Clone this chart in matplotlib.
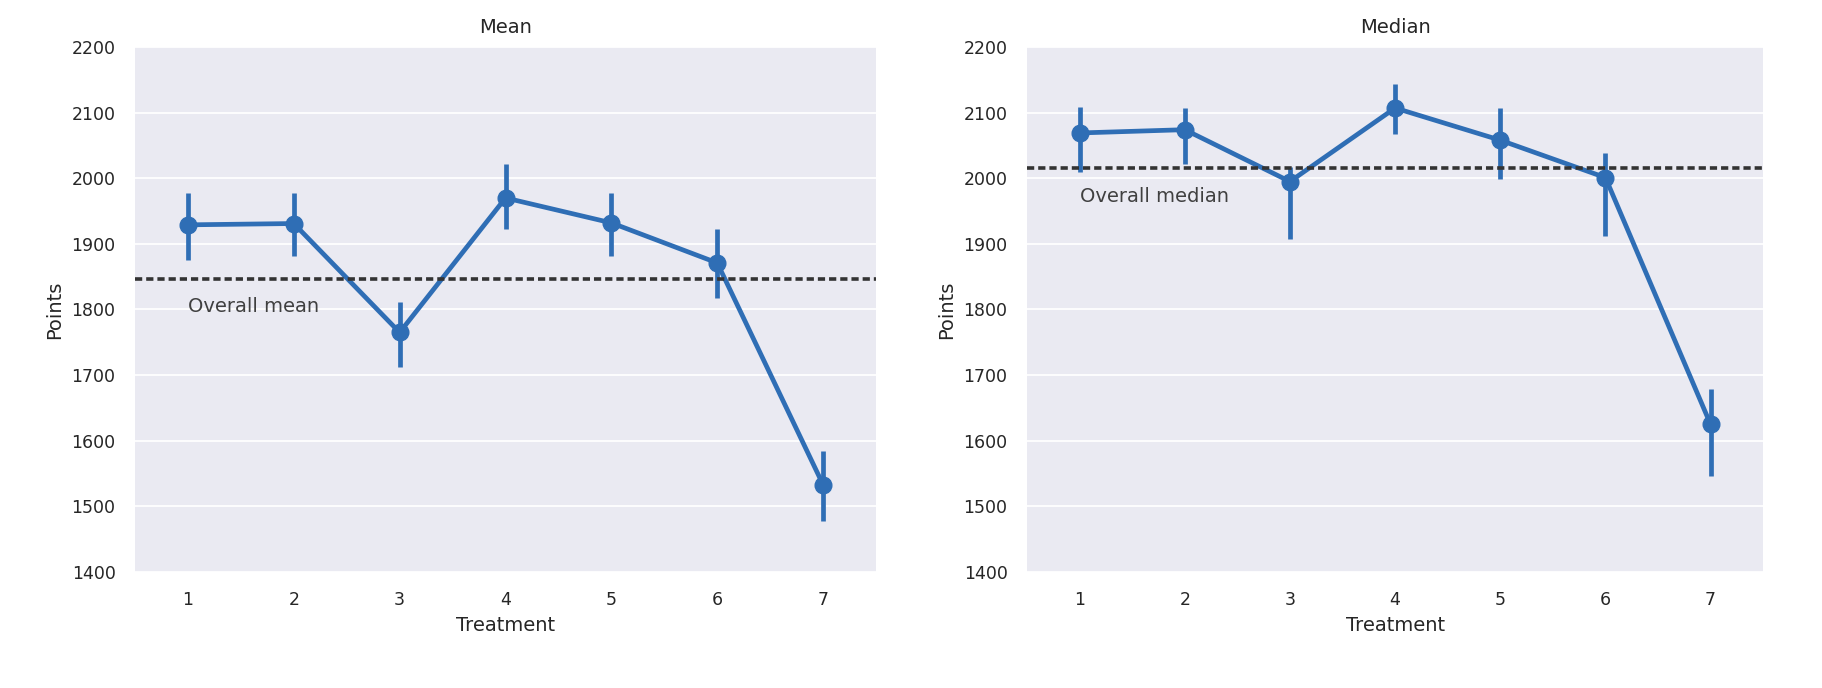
import numpy as np
import matplotlib.pyplot as plt

treatments = ['1', '2', '3', '4', '5', '6', '7']

# Mean panel
mean_pts = [1929, 1931, 1765, 1970, 1932, 1871, 1533]
mean_lo = [1875, 1882, 1712, 1922, 1882, 1817, 1478]
mean_hi = [1977, 1978, 1811, 2021, 1977, 1923, 1585]
overall_mean = 1847

# Median panel
median_pts = [2069, 2074, 1995, 2107, 2058, 2001, 1625]
median_lo = [2009, 2022, 1907, 2068, 1999, 1912, 1547]
median_hi = [2109, 2107, 2017, 2144, 2107, 2038, 1679]
overall_median = 2015

yticks = list(range(1400, 2201, 100))

blue = '#2f6eb5'
txt = '#262626'


def draw(ax, pts, lo, hi, overall, title, note):
    x = np.arange(len(treatments))
    pts = np.array(pts)
    err = [pts - np.array(lo), np.array(hi) - pts]
    ax.set_facecolor('#eaeaf2')
    for s in ax.spines.values():
        s.set_visible(False)
    ax.set_axisbelow(True)
    ax.grid(axis='y', color='white', linewidth=1.3)
    ax.grid(axis='x', visible=False)
    ax.errorbar(x, pts, yerr=err, fmt='o-', color=blue, linewidth=3.4,
                elinewidth=3.4, markersize=12, capsize=0, zorder=2)
    ax.axhline(overall, color='#333333', linewidth=2.6, dashes=(2.0, 1.1), zorder=3)
    ax.text(0, overall - 43, note, ha='left', va='center', fontsize=14, color='#404040')
    ax.set_xlim(-0.5, len(treatments) - 0.5)
    ax.set_ylim(1400, 2200)
    ax.set_xticks(x)
    ax.set_xticklabels(treatments)
    ax.set_yticks(yticks)
    ax.tick_params(length=0, pad=14, labelsize=12.5, colors=txt)
    ax.set_title(title, fontsize=14, color=txt, pad=10)
    ax.set_xlabel('Treatment', fontsize=14, color=txt, labelpad=5)
    ax.set_ylabel('Points', fontsize=14, color=txt, labelpad=5)


fig = plt.figure(figsize=(18.22, 6.88), dpi=100)
ax1 = fig.add_axes([0.0741, 0.1686, 0.4067, 0.7631])
ax2 = fig.add_axes([0.5637, 0.1686, 0.4040, 0.7631])

draw(ax1, mean_pts, mean_lo, mean_hi, overall_mean, 'Mean', 'Overall mean')
draw(ax2, median_pts, median_lo, median_hi, overall_median, 'Median', 'Overall median')

fig.savefig('out.png', dpi=100)
